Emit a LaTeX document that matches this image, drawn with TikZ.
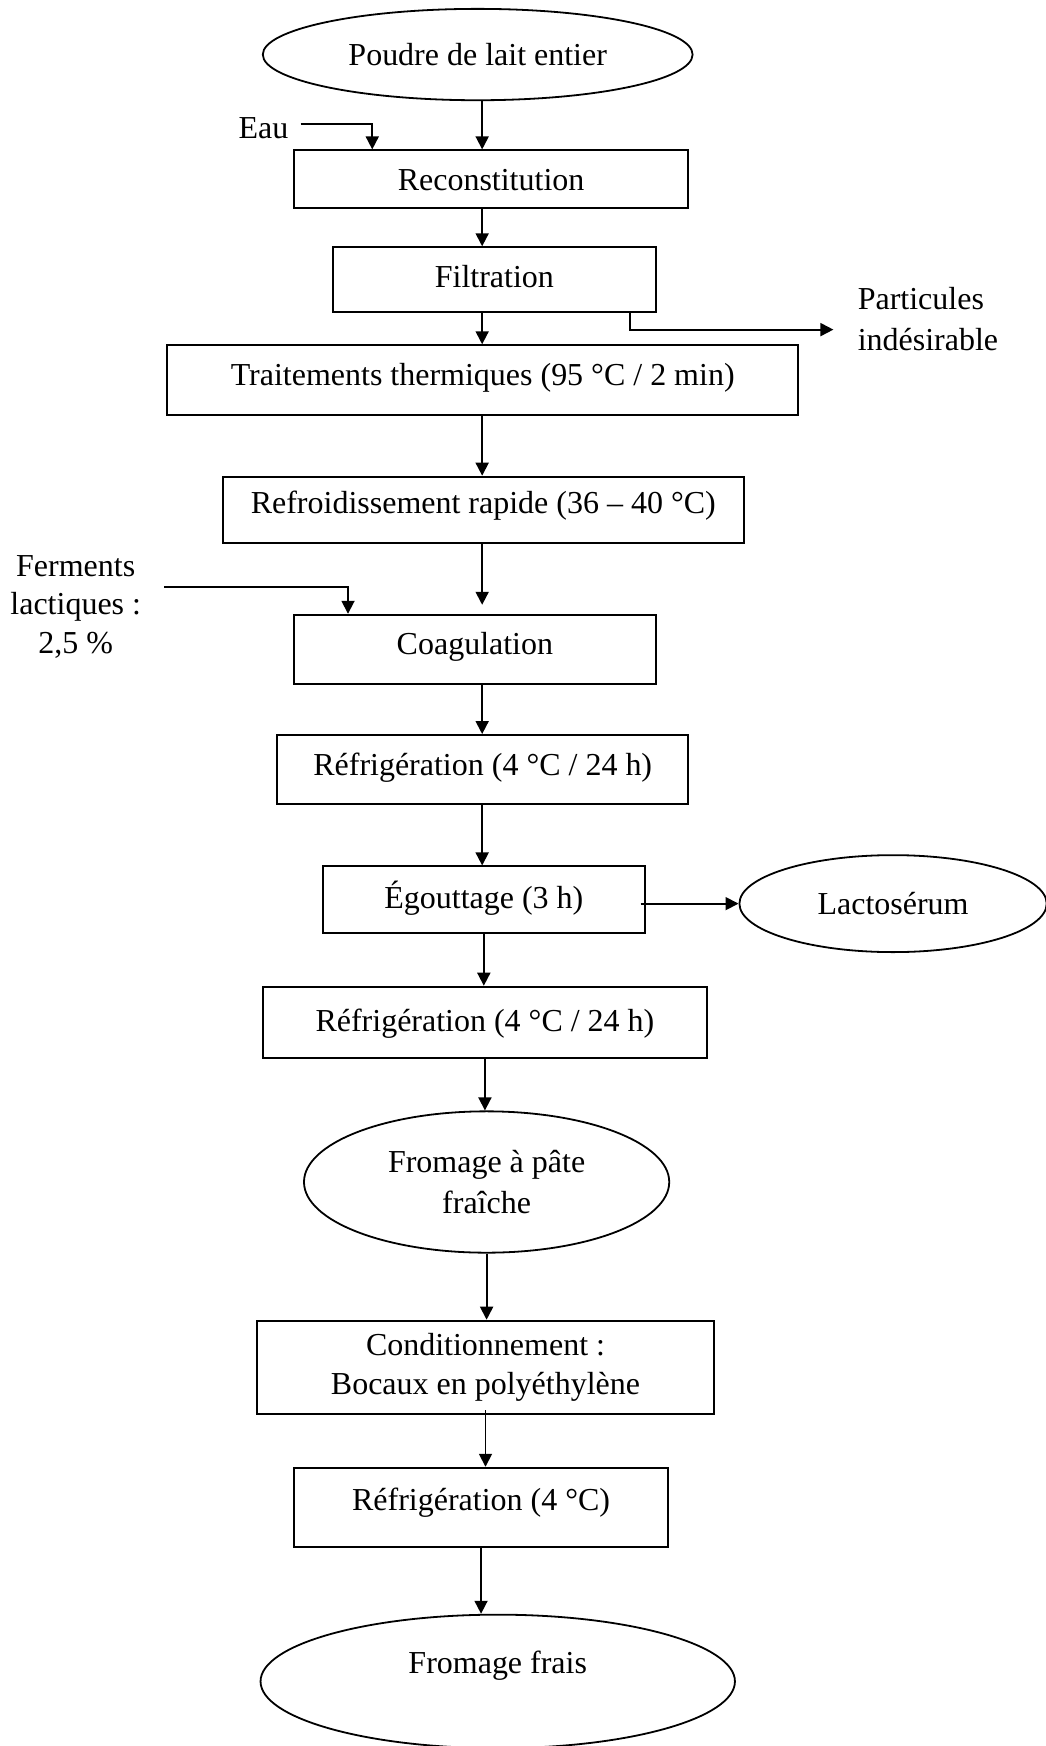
\documentclass[tikz,border=0pt]{standalone}
\usepackage{fontspec}
\setmainfont{Liberation Serif}
\usetikzlibrary{shapes.geometric,arrows.meta,calc}
\begin{document}
\begin{tikzpicture}[x=0.557pt,y=-0.557pt,
  every node/.style={font=\fontsize{16}{19.2}\selectfont},
  box/.style={draw,line width=0.9pt,rectangle,inner sep=0pt},
  oval/.style={draw,line width=0.9pt,ellipse,inner sep=0pt},
  lift/.style={text height=11pt,text depth=#1},
  arr/.style={line width=0.9pt,-{Triangle[length=6.5pt,width=6.5pt]}},
  lbl/.style={inner sep=0pt}]
\useasboundingbox (0,0) rectangle (939,1568);

\node[oval,minimum width=215pt,minimum height=45.7pt] (poudre) at (429,49) {Poudre de lait entier};
\node[box,minimum width=197.2pt,minimum height=29pt,lift=0pt] (rec) at (441,161) {Reconstitution};
\node[box,minimum width=161.5pt,minimum height=32.3pt,lift=3.4pt] (filt) at (444,251) {Filtration};
\node[box,minimum width=315.8pt,minimum height=35.1pt,lift=6pt] (trait) at (433.5,341.5) {Traitements thermiques (95 °C / 2 min)};
\node[box,minimum width=260.7pt,minimum height=33.4pt,lift=7.8pt] (refr) at (434,458) {Refroidissement rapide (36 – 40 °C)};
\node[box,minimum width=181pt,minimum height=34.5pt,lift=5.6pt] (coag) at (426.5,583) {Coagulation};
\node[box,minimum width=205.5pt,minimum height=34.5pt,lift=4.5pt] (ref1) at (433.5,691) {Réfrigération (4 °C / 24 h)};
\node[box,minimum width=161pt,minimum height=33.4pt,lift=2.2pt] (egout) at (434.5,808) {Égouttage (3 h)};
\node[oval,minimum width=153.7pt,minimum height=48.5pt] (lacto) at (802,811.5) {Lactosérum};
\node[box,minimum width=222.2pt,minimum height=35.6pt,lift=2.2pt] (ref2) at (435.5,918) {Réfrigération (4 °C / 24 h)};
\node[oval,minimum width=182.7pt,minimum height=70.7pt,align=center] (fpf) at (437,1061.5) {Fromage à pâte\\[1.4pt]fraîche};
\node[box,minimum width=228.4pt,minimum height=46.8pt,align=center] (cond) at (436,1228) {Conditionnement :\\Bocaux en polyéthylène};
\node[box,minimum width=187.2pt,minimum height=39.5pt,lift=7.8pt] (ref3) at (432,1353.5) {Réfrigération (4 °C)};
\node[oval,minimum width=237.3pt,minimum height=66.8pt,lift=19pt] (ff) at (447,1510) {Fromage frais};

\node[lbl,anchor=east,inner xsep=6pt] (eau) at (270,115) {Eau};
\node[lbl,align=center] (ferm) at (68,545) {Ferments\\lactiques :\\2,5 \%};
\node[lbl,anchor=west,align=left] (part) at (770,286.5) {Particules\\[1.4pt]indésirable};

\coordinate (col) at (433,0);
\coordinate (eauin) at ($(rec.north west)!0.2!(rec.north east)$);
\coordinate (fermin) at ($(coag.north west)!0.151!(coag.north east)$);
\coordinate (filtout) at ($(filt.south west)!0.917!(filt.south east)$);

\draw[arr] (poudre.south -| col) -- (rec.north -| col);
\draw[arr] (rec.south -| col) -- (filt.north -| col);
\draw[arr] (filt.south -| col) -- (trait.north -| col);
\draw[arr] (trait.south -| col) -- (refr.north -| col);
\draw[arr,shorten >=4.5pt] (refr.south -| col) -- (coag.north -| col);
\draw[arr] (coag.south -| col) -- (ref1.north -| col);
\draw[arr] (ref1.south -| col) -- (egout.north -| col);
\draw[arr] (egout.south) -- (egout.south |- ref2.north);
\draw[arr] (ref2.south) -- (ref2.south |- fpf.north);
\draw[arr] (fpf.south) -- (fpf.south |- cond.north);
\draw[arr] ([yshift=2.5pt]cond.south) -- (cond.south |- ref3.north);
\draw[arr] (ref3.south) -- (ref3.south |- ff.north);
\draw[arr] ([xshift=-2.5pt]egout.east |- lacto.west) -- (lacto.west);

\draw[arr] ([yshift=2.2pt]eau.east) -| (eauin);
\draw[arr] ([xshift=11.4pt,yshift=10pt]ferm.east) -| (fermin);
\draw[arr] (filtout) |- ([xshift=-12pt,yshift=-5.3pt]part.west);
\end{tikzpicture}
\end{document}
